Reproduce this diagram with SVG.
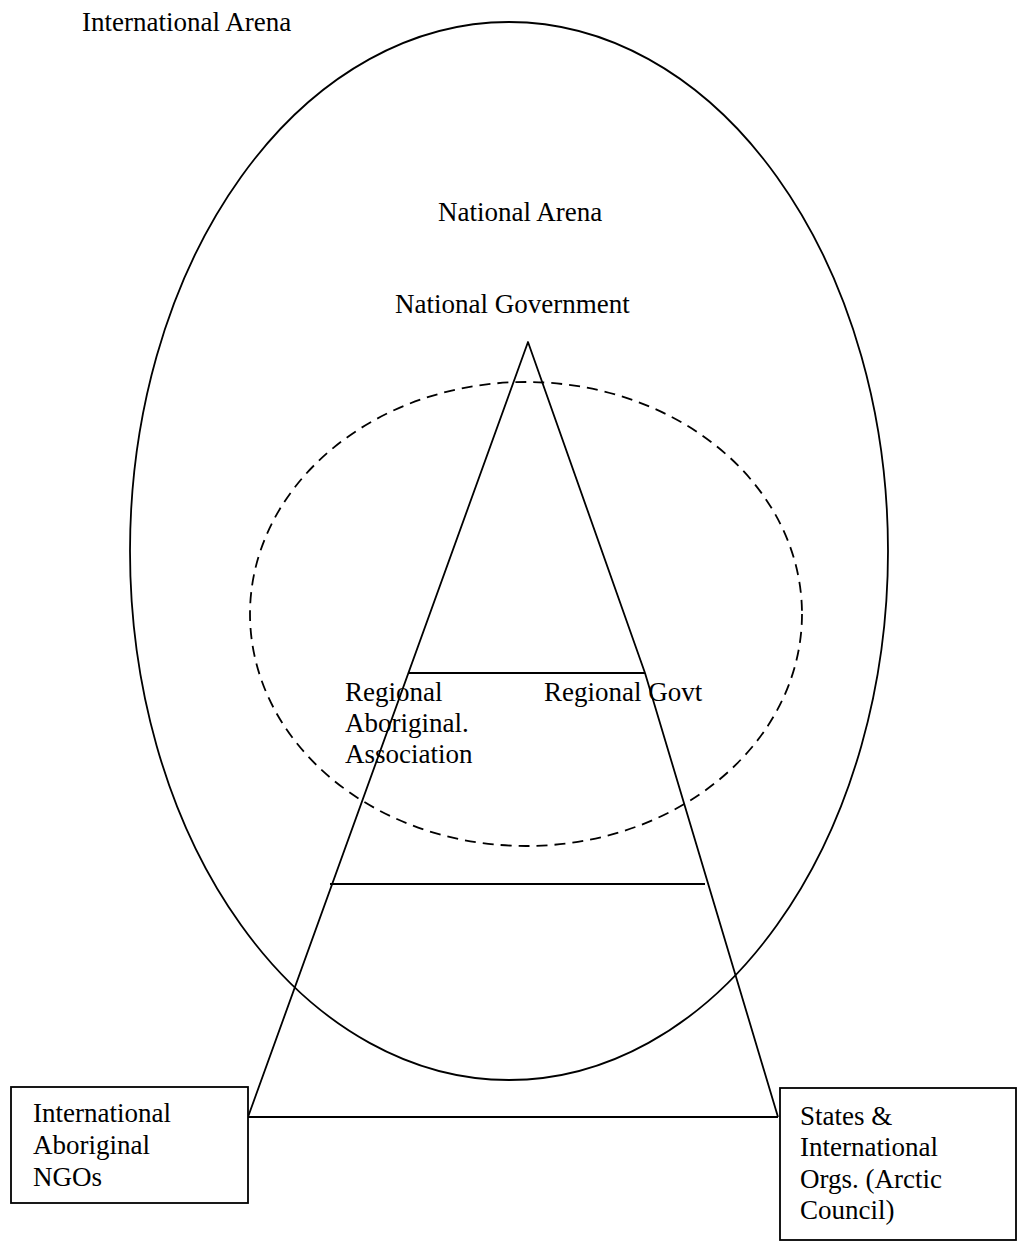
<svg xmlns="http://www.w3.org/2000/svg" width="1018" height="1242" viewBox="0 0 1018 1242">
  <style>
    .t { font-family: "Liberation Serif", "Times New Roman", serif; font-size: 27px; fill: #000; }
    .ln { fill: none; stroke: #000; stroke-width: 1.8; stroke-linejoin: round; }
    .box { fill: #fff; stroke: #000; stroke-width: 1.8; }
  </style>
  <rect width="1018" height="1242" fill="#fff"/>

  <!-- arena ellipses -->
  <g id="international-arena">
    <text class="t" x="82" y="31">International Arena</text>
  </g>
  <g id="national-arena">
    <ellipse class="ln" cx="509" cy="551" rx="379" ry="529"/>
    <text class="t" x="438" y="221">National Arena</text>
  </g>
  <g id="regional-arena">
    <ellipse class="ln" cx="526" cy="614" rx="276" ry="232" stroke-dasharray="11 7"/>
  </g>

  <!-- governance pyramid -->
  <g id="connectors">
    <polyline class="ln" points="248,1117 528,342 645,673 778,1117"/>
    <line class="ln" x1="248" y1="1117" x2="778" y2="1117"/>
    <line class="ln" x1="409" y1="673" x2="645" y2="673"/>
    <line class="ln" x1="330" y1="884" x2="705" y2="884"/>
  </g>

  <g id="national-government">
    <text class="t" x="395" y="313">National Government</text>
  </g>
  <g id="regional-aboriginal-association">
    <text class="t" x="345" y="701">Regional</text>
    <text class="t" x="345" y="732">Aboriginal.</text>
    <text class="t" x="345" y="763">Association</text>
  </g>
  <g id="regional-govt">
    <text class="t" x="544" y="701">Regional Govt</text>
  </g>

  <g id="international-aboriginal-ngos">
    <rect class="box" x="11" y="1087" width="237" height="116"/>
    <text class="t" x="33" y="1122">International</text>
    <text class="t" x="33" y="1154">Aboriginal</text>
    <text class="t" x="33" y="1186">NGOs</text>
  </g>
  <g id="states-international-orgs">
    <rect class="box" x="780" y="1088" width="236" height="152"/>
    <text class="t" x="800" y="1125">States &amp;</text>
    <text class="t" x="800" y="1156">International</text>
    <text class="t" x="800" y="1188">Orgs. (Arctic</text>
    <text class="t" x="800" y="1219">Council)</text>
  </g>
</svg>
